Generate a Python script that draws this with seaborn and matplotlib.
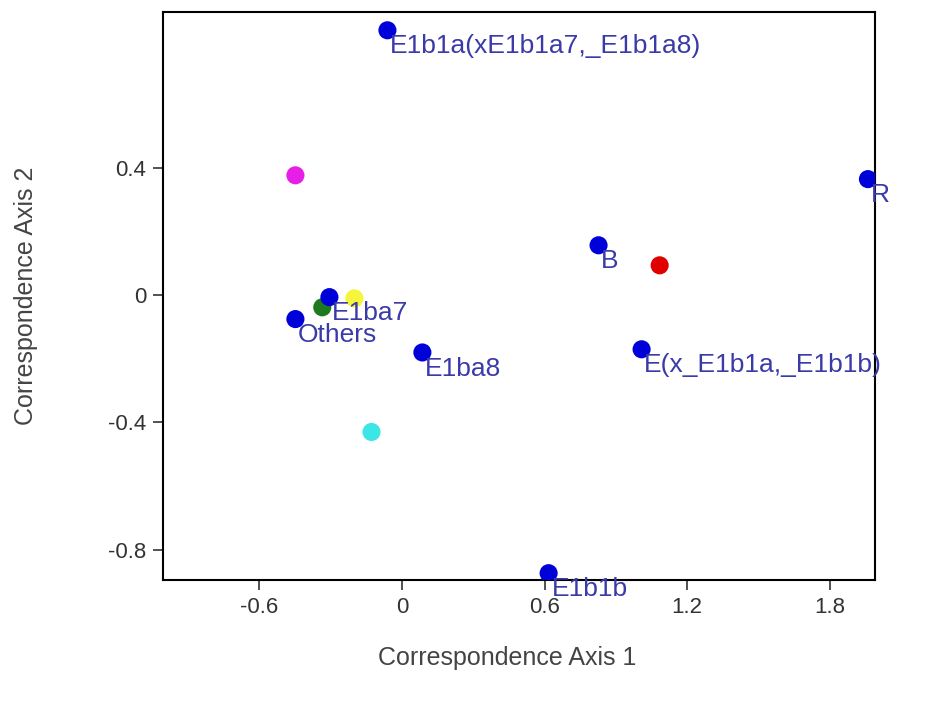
import matplotlib
matplotlib.use("Agg")
import matplotlib.pyplot as plt
import seaborn as sns
import pandas as pd

# Correspondence analysis coordinates
labels = ["E1b1a(xE1b1a7,_E1b1a8)", "", "R", "B", "", "E1ba7", "", "",
          "Others", "E1ba8", "E(x_E1b1a,_E1b1b)", "", "E1b1b"]
axis1 = [-0.061, -0.448, 1.96, 0.827, 1.084, -0.305, -0.20, -0.335,
         -0.448, 0.086, 1.008, -0.128, 0.617]
axis2 = [0.833, 0.377, 0.365, 0.157, 0.094, -0.006, -0.010, -0.038,
         -0.075, -0.180, -0.170, -0.430, -0.874]
groups = ["hap", "magenta", "hap", "hap", "red", "hap", "yellow", "green",
          "hap", "hap", "hap", "cyan", "hap"]

xtick_vals = [-0.6, 0, 0.6, 1.2, 1.8]
xtick_text = ["-0.6", "0", "0.6", "1.2", "1.8"]
ytick_vals = [-0.8, -0.4, 0, 0.4]
ytick_text = ["-0.8", "-0.4", "0", "0.4"]

palette = {"hap": "#0000d8", "magenta": "#e61ee6", "red": "#e00000",
           "yellow": "#f5f53c", "green": "#1e7a1e", "cyan": "#3ce6e6"}

df = pd.DataFrame({"axis1": axis1, "axis2": axis2, "group": groups, "label": labels})
# draw coloured points first, haplogroup points on top
df["order"] = (df["group"] == "hap").astype(int)
df = df.sort_values("order", kind="stable")

sns.set_theme(style="white")
plt.rcParams["font.family"] = ["Liberation Sans", "DejaVu Sans"]
plt.rcParams["axes.unicode_minus"] = False

fig = plt.figure(figsize=(9.26, 7.15), dpi=100)
ax = fig.add_axes([0.176, 0.189, 0.769, 0.794])

sns.scatterplot(data=df, x="axis1", y="axis2", hue="group", palette=palette,
                s=170, linewidth=0, legend=False, ax=ax, zorder=3)

for _, row in df.iterrows():
    if row["label"]:
        ax.annotate(row["label"], (row["axis1"], row["axis2"]),
                    xytext=(2, -3), textcoords="offset points",
                    ha="left", va="top", fontsize=19, color="#3a3aa8",
                    zorder=4, annotation_clip=False)

ax.set_xlim(-1.005, 1.99)
ax.set_ylim(-0.895, 0.89)
ax.set_xticks(xtick_vals)
ax.set_xticklabels(xtick_text)
ax.set_yticks(ytick_vals)
ax.set_yticklabels(ytick_text)
ax.tick_params(axis="both", direction="out", length=7, width=1.2,
               color="#333333", labelsize=16, labelcolor="#333333",
               bottom=True, left=True, pad=5)
for sp in ax.spines.values():
    sp.set_color("black")
    sp.set_linewidth(1.5)

ax.set_xlabel("Correspondence Axis 1", fontsize=18, color="#444444", va="center")
ax.set_ylabel("Correspondence Axis 2", fontsize=18, color="#444444", va="center")
ax.xaxis.set_label_coords(0.483, -0.137)
ax.yaxis.set_label_coords(-0.192, 0.5)

fig.savefig("out.png", dpi=100, facecolor="white")
